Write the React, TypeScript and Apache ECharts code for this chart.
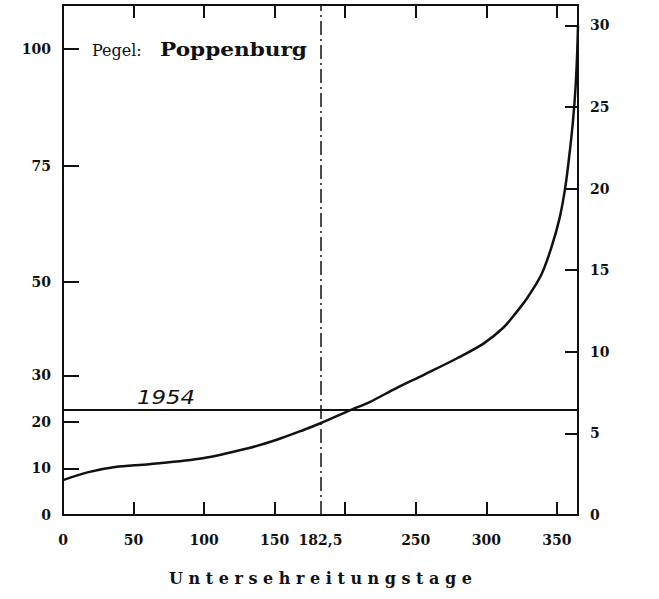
import React, { useEffect, useRef } from "react";
import * as echarts from "echarts";

// Unterschreitungsdauerlinie, Pegel Poppenburg
const days = [0, 18, 37, 61, 99, 132, 151, 170, 182.5, 205, 217, 236, 255, 279, 298, 312, 321, 329, 339, 346, 352, 356, 359, 361.5, 363.3, 364.4, 365];
const levels = [7.5, 9.2, 10.3, 10.9, 12.2, 14.4, 16.1, 18.2, 19.7, 22.7, 24.2, 27.2, 30.0, 33.6, 36.8, 40.2, 43.4, 46.6, 51.6, 57.3, 63.8, 70.4, 77.6, 84.8, 92, 99, 105];

const xTickStep = 50;
const xLabels = [0, 50, 100, 150, 182.5, 250, 300, 350];
const topTickStart = -36.5; // top scale ticks fall at 13.5, 63.5, ... days
const leftTicks = [0, 10, 20, 30, 50, 75, 100];
const refYear = "1954";
const refLevel = 22.7;
const medianDay = 182.5;
const stationLabel = "Pegel:";
const stationName = "Poppenburg";
const xTitle = "U n t e r s e h r e i t u n g s t a g e";

const FONT = "DejaVu Serif";

const axLine = (show = true) => ({ show, onZero: false, lineStyle: { color: "#111", width: 2 } });
const tick = (length: number, customValues?: number[]) => {
  const t: any = { show: true, inside: true, length, lineStyle: { color: "#111", width: 2 } };
  if (customValues) t.customValues = customValues;
  return t;
};
const labelStyle = () => ({ fontFamily: FONT, fontWeight: "bold", fontSize: 14, color: "#111" });

export default function App() {
  const ref = useRef<HTMLDivElement>(null);
  useEffect(() => {
    const chart = echarts.init(ref.current!, null, { renderer: "svg" });
    chart.setOption({
      animation: false,
      backgroundColor: "#fff",
      grid: { left: 63, right: 81, top: 5, bottom: 84, show: true, borderColor: "#111", borderWidth: 2 },
      xAxis: [
        {
          type: "value",
          min: 0,
          max: 365,
          interval: xTickStep,
          position: "bottom",
          splitLine: { show: false },
          axisLine: axLine(),
          axisTick: tick(13),
          axisLabel: { show: false },
        },
        {
          type: "value",
          min: 0,
          max: 365,
          position: "bottom",
          splitLine: { show: false },
          axisLine: axLine(false),
          axisTick: { show: false },
          axisLabel: {
            ...labelStyle(),
            margin: 18,
            customValues: xLabels,
            formatter: (v: number) => String(v).replace(".", ","),
          },
          name: xTitle,
          nameLocation: "middle",
          nameGap: 55,
          nameTextStyle: { fontFamily: FONT, fontWeight: "bold", fontSize: 16, color: "#111" },
        },
        {
          type: "value",
          min: topTickStart,
          max: topTickStart + 365,
          interval: xTickStep,
          position: "top",
          splitLine: { show: false },
          axisLine: axLine(),
          axisTick: tick(13),
          axisLabel: { show: false },
        },
      ],
      yAxis: [
        {
          type: "value",
          min: 0,
          max: 109.5,
          position: "left",
          splitLine: { show: false },
          axisLine: axLine(),
          axisTick: tick(16, leftTicks),
          axisLabel: { ...labelStyle(), margin: 12, customValues: leftTicks },
        },
        {
          type: "value",
          min: 0,
          max: 31.25,
          interval: 5,
          position: "right",
          splitLine: { show: false },
          axisLine: axLine(),
          axisTick: tick(13),
          axisLabel: { ...labelStyle(), margin: 12, showMaxLabel: false },
        },
      ],
      series: [
        {
          type: "line",
          xAxisIndex: 0,
          yAxisIndex: 0,
          data: days.map((d, i) => [d, levels[i]]),
          smooth: 0.3,
          symbol: "none",
          lineStyle: { color: "#111", width: 2.5 },
          markLine: {
            silent: true,
            symbol: "none",
            label: { show: false },
            data: [
              { yAxis: refLevel, lineStyle: { color: "#111", width: 2, type: "solid" } },
              { xAxis: medianDay, lineStyle: { color: "#111", width: 1.5, type: [14, 4, 2, 4] } },
            ],
          },
        },
      ],
      graphic: [
        {
          type: "text",
          x: 92,
          y: 42,
          style: { text: stationLabel, fontFamily: FONT, fontSize: 16, fill: "#111" },
        },
        {
          type: "text",
          x: 160,
          y: 41,
          scaleX: 1.2,
          style: { text: stationName, fontFamily: FONT, fontSize: 18, fontWeight: "bold", fill: "#111" },
        },
        {
          type: "text",
          x: 137,
          y: 388,
          scaleX: 1.2,
          style: {
            text: refYear,
            fontFamily: "DejaVu Sans",
            fontStyle: "italic",
            fontSize: 19,
            fill: "#111",
          },
        },
      ],
    });
    return () => chart.dispose();
  }, []);
  return <div ref={ref} style={{ position: "fixed", left: 0, top: 0, width: 659, height: 599 }} />;
}
